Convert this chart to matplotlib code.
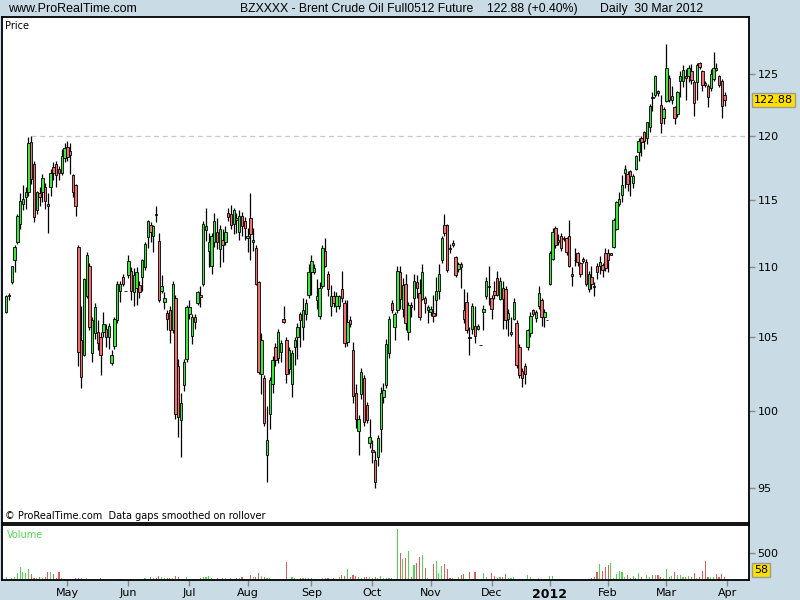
import numpy as np
import pandas as pd
import matplotlib
matplotlib.use("Agg")
import matplotlib.pyplot as plt
import matplotlib.transforms as mtransforms
from matplotlib.ticker import FixedLocator, FixedFormatter, NullLocator

# ── data: daily OHLC + volume, 30 Mar 2011 .. 30 Mar 2012 ─────────────────────
holidays = ["2011-04-22", "2011-12-26", "2012-01-02"]

opens = [
    106.8, 108.0, 108.9, 110.5, 111.8, 113.2, 114.7, 115.2, 115.6, 119.5,
    117.8, 114.2, 115.5, 115.6, 116.0, 114.65, 116.0, 117.5, 117.8, 117.35,
    117.1, 118.2, 119.1, 118.8, 116.9, 116.1, 111.5, 104.8, 103.8, 107.9,
    110.1, 103.9, 105.3, 105.4, 105.0, 105.4, 105.6, 105.0, 103.2, 104.4,
    106.2, 108.3, 109.3, 108.3, 109.4, 109.7, 108.2, 108.5, 108.7, 109.25,
    110.0, 112.2, 113.1, 112.3, 113.95, 111.9, 108.3, 107.5, 106.7, 106.9,
    105.5, 107.8, 103.0, 99.4, 101.7, 103.5, 106.6, 105.1, 106.4, 107.4,
    107.95, 108.8, 112.7, 111.2, 110.05, 111.8, 112.6, 111.3, 112.0, 111.8,
    114.0, 113.9, 113.2, 113.6, 112.6, 113.8, 113.4, 112.1, 113.6, 111.8,
    111.4, 108.9, 102.5, 102.2, 97.1, 99.8, 101.8, 104.3, 103.6, 104.0,
    106.3, 104.8, 102.8, 101.8, 104.3, 105.0, 106.6, 105.7, 106.6, 108.0,
    109.6, 109.65, 107.6, 106.5, 108.6, 111.2, 109.5, 107.2, 107.9, 107.2,
    107.2, 108.4, 107.4, 104.7, 106.2, 104.15, 101.2, 98.7, 101.1, 102.2,
    100.4, 97.9, 97.45, 96.8, 97.0, 98.8, 100.9, 101.7, 103.9, 107.4,
    105.7, 106.9, 109.6, 107.0, 108.8, 105.4, 107.3, 107.8, 108.9, 108.1,
    107.7, 107.8, 106.9, 106.75, 106.7, 107.6, 108.3, 110.5, 113.1, 113.1,
    111.4, 111.75, 110.7, 109.85, 110.2, 106.9, 107.5, 105.05, 105.6, 105.8,
    105.6, 104.45, 106.8, 107.9, 108.65, 107.8, 108.3, 109.2, 107.7, 108.45,
    108.4, 106.3, 105.2, 106.3, 106.0, 104.3, 102.7, 103.0, 104.3, 105.3,
    106.9, 106.35, 107.2, 107.6, 106.4, 106.2, 108.8, 110.6, 112.9, 111.8,
    112.3, 112.15, 112.1, 112.3, 109.5, 110.5, 111.0, 110.3, 110.55, 110.35,
    108.4, 109.25, 108.65, 110.05, 110.05, 110.15, 111.0, 111.0, 110.9, 111.5,
    112.8, 114.7, 115.4, 117.1, 117.0, 117.2, 116.3, 117.4, 118.7, 119.8,
    120.3, 119.8, 120.7, 123.1, 123.3, 123.6, 122.45, 121.4, 122.8, 124.7,
    122.9, 122.3, 121.7, 124.4, 124.4, 124.85, 124.85, 125.2, 124.3, 124.3,
    125.9, 125.2, 124.25, 124.0, 123.8, 124.6, 125.5, 124.8, 124.4, 123.3,
]
highs = [
    108.0, 108.1, 110.1, 111.6, 113.9, 115.5, 116.1, 116.0, 119.9, 120.0,
    118.0, 115.7, 116.0, 117.0, 116.3, 115.5, 117.4, 117.9, 118.0, 117.6,
    118.9, 119.4, 119.6, 119.4, 117.0, 116.2, 111.6, 107.2, 109.2, 111.1,
    110.3, 106.4, 107.4, 106.2, 105.4, 106.8, 105.9, 106.0, 104.1, 106.4,
    109.0, 109.0, 109.5, 108.3, 110.9, 110.0, 109.9, 110.0, 109.0, 110.6,
    111.8, 113.5, 113.3, 113.1, 114.5, 112.5, 109.4, 108.2, 106.9, 107.2,
    109.0, 108.0, 103.5, 101.2, 103.5, 107.3, 107.6, 106.6, 106.6, 108.3,
    108.6, 113.4, 114.4, 112.5, 112.5, 114.0, 113.6, 113.1, 112.8, 113.0,
    114.4, 114.6, 114.4, 114.0, 114.2, 114.1, 113.7, 112.9, 115.5, 112.9,
    111.6, 109.0, 105.3, 102.4, 100.3, 102.3, 103.7, 104.6, 105.6, 104.8,
    107.2, 105.0, 104.3, 104.1, 105.0, 106.0, 106.8, 107.8, 107.7, 110.2,
    110.9, 110.2, 109.1, 108.9, 111.6, 112.1, 109.7, 108.7, 108.3, 108.2,
    108.0, 109.7, 107.6, 107.6, 106.5, 104.7, 101.8, 99.7, 102.9, 102.4,
    100.6, 99.5, 98.1, 97.4, 98.4, 101.6, 101.9, 104.9, 106.5, 107.6,
    106.8, 110.1, 110.1, 109.2, 109.5, 107.5, 107.5, 109.5, 109.4, 109.1,
    110.2, 107.9, 107.3, 107.2, 108.0, 109.3, 110.2, 112.3, 113.95, 113.2,
    111.7, 112.0, 110.8, 110.4, 110.4, 108.4, 108.2, 105.7, 107.4, 107.2,
    105.9, 104.45, 107.3, 109.3, 110.1, 108.0, 109.0, 109.7, 109.3, 109.0,
    108.6, 107.0, 106.45, 107.8, 106.2, 104.5, 102.9, 103.2, 105.6, 106.8,
    107.0, 106.9, 108.6, 107.8, 107.0, 106.2, 111.2, 112.9, 113.0, 112.4,
    112.5, 112.3, 112.2, 113.5, 110.0, 111.4, 111.1, 110.4, 110.7, 110.6,
    109.7, 110.1, 108.9, 110.3, 110.8, 110.3, 111.4, 111.3, 111.0, 113.6,
    114.9, 115.6, 116.9, 117.7, 117.2, 117.3, 117.0, 118.5, 119.8, 120.0,
    120.4, 121.1, 122.5, 123.5, 124.9, 123.7, 123.3, 122.3, 127.5, 124.9,
    124.0, 122.4, 123.6, 125.2, 125.7, 125.4, 125.7, 125.8, 124.5, 125.9,
    126.0, 125.3, 124.4, 124.2, 125.4, 126.8, 125.9, 124.9, 124.6, 123.5,
]
lows = [
    106.7, 107.6, 108.8, 109.6, 111.7, 112.8, 114.2, 114.3, 115.3, 116.2,
    113.3, 113.9, 114.5, 114.8, 114.3, 112.5, 115.3, 116.5, 116.0, 116.5,
    116.9, 117.9, 118.0, 117.0, 115.2, 113.8, 103.0, 101.5, 103.7, 107.8,
    105.5, 103.3, 104.9, 104.1, 102.4, 105.0, 104.3, 104.2, 103.1, 104.2,
    106.0, 107.5, 108.6, 108.3, 109.2, 107.6, 107.2, 107.3, 107.8, 108.3,
    109.8, 111.4, 111.8, 111.1, 113.3, 107.5, 108.1, 107.0, 105.5, 104.6,
    105.3, 99.5, 98.3, 97.0, 101.3, 103.3, 106.3, 104.5, 105.6, 107.3,
    107.1, 108.6, 111.9, 110.0, 109.5, 111.5, 111.3, 110.0, 110.4, 111.6,
    113.4, 112.8, 112.4, 112.5, 112.0, 112.3, 112.0, 111.1, 110.5, 111.2,
    108.7, 102.5, 101.1, 99.0, 95.4, 98.8, 101.2, 103.0, 103.2, 103.3,
    106.0, 101.9, 102.5, 100.9, 103.1, 103.5, 104.3, 104.8, 106.2, 107.8,
    108.0, 109.5, 107.0, 106.3, 108.5, 110.0, 107.9, 106.5, 107.1, 106.8,
    107.0, 107.5, 104.3, 104.4, 105.7, 100.5, 98.9, 97.1, 100.8, 99.0,
    99.2, 97.6, 96.6, 95.0, 96.4, 97.3, 100.5, 101.5, 103.6, 106.7,
    104.8, 106.7, 107.0, 106.4, 105.5, 104.8, 106.4, 106.9, 107.8, 106.2,
    107.6, 106.7, 106.0, 106.5, 106.1, 106.5, 107.7, 110.3, 112.3, 109.6,
    111.0, 111.5, 109.3, 109.6, 108.5, 106.0, 105.3, 103.75, 105.2, 104.6,
    105.5, 104.45, 105.5, 107.7, 107.3, 106.3, 107.7, 107.9, 107.6, 105.6,
    105.6, 105.1, 105.1, 106.2, 102.9, 102.2, 101.6, 101.8, 104.1, 105.0,
    106.5, 106.1, 107.0, 105.8, 105.7, 106.2, 108.7, 110.5, 111.4, 111.6,
    111.2, 111.9, 110.9, 110.0, 108.6, 110.1, 110.1, 109.3, 110.3, 108.6,
    108.2, 108.4, 107.9, 109.1, 109.5, 109.3, 109.7, 109.6, 110.9, 111.4,
    112.7, 114.5, 114.8, 115.9, 115.7, 115.3, 115.9, 117.3, 118.0, 118.4,
    118.9, 119.3, 120.3, 122.0, 123.1, 123.2, 120.2, 120.9, 122.7, 122.7,
    122.5, 120.9, 121.5, 123.1, 123.9, 122.9, 124.3, 124.2, 121.6, 122.9,
    125.4, 123.6, 123.9, 122.3, 123.6, 124.4, 125.2, 123.9, 121.4, 122.4,
]
closes = [
    107.9, 107.9, 110.05, 111.5, 113.8, 114.95, 115.1, 115.6, 119.4, 116.6,
    113.7, 115.6, 115.2, 116.7, 114.9, 114.55, 117.1, 117.1, 116.9, 117.1,
    118.4, 119.0, 118.3, 118.5, 115.6, 114.5, 104.0, 102.3, 109.1, 110.9,
    105.7, 106.2, 107.1, 104.6, 103.8, 105.9, 105.0, 105.8, 103.8, 106.3,
    108.8, 108.8, 108.8, 108.3, 110.45, 108.3, 109.4, 109.6, 108.2, 110.5,
    111.7, 113.4, 112.6, 113.0, 113.85, 107.6, 108.6, 107.8, 106.3, 105.5,
    108.8, 99.8, 99.6, 100.5, 103.3, 107.1, 107.1, 106.4, 106.1, 108.2,
    107.85, 113.2, 113.0, 111.8, 112.3, 113.4, 111.8, 112.8, 111.6, 112.6,
    113.7, 113.1, 114.2, 113.5, 113.8, 113.0, 112.9, 112.3, 112.4, 112.0,
    108.8, 102.6, 104.8, 99.2, 98.1, 102.1, 103.4, 103.4, 105.4, 104.6,
    106.1, 102.5, 104.1, 103.9, 104.8, 105.7, 106.2, 106.9, 107.4, 109.6,
    110.45, 109.9, 107.9, 108.5, 111.4, 110.1, 108.4, 107.9, 107.4, 107.9,
    107.9, 107.8, 104.6, 106.1, 105.9, 101.0, 99.5, 99.5, 102.6, 99.3,
    99.4, 98.3, 97.3, 95.4, 98.2, 101.2, 101.4, 104.5, 106.3, 106.9,
    106.6, 109.7, 107.7, 108.7, 106.0, 107.3, 107.1, 109.0, 108.45, 106.4,
    109.6, 107.4, 107.1, 107.0, 106.5, 108.3, 109.5, 112.1, 112.5, 109.8,
    111.3, 111.65, 109.4, 110.2, 110.0, 106.3, 105.5, 104.95, 107.2, 105.1,
    105.8, 104.45, 107.0, 109.0, 108.55, 107.0, 108.0, 108.0, 109.0, 107.7,
    106.2, 106.7, 105.4, 107.5, 103.1, 102.4, 102.2, 102.5, 105.5, 106.5,
    106.6, 106.75, 108.1, 106.4, 106.8, 106.2, 111.0, 112.6, 111.6, 112.0,
    111.4, 112.05, 111.1, 110.1, 109.35, 110.5, 110.4, 109.5, 110.45, 108.8,
    109.5, 108.8, 108.55, 109.65, 110.35, 109.8, 109.9, 110.5, 111.0, 113.5,
    114.8, 115.1, 116.1, 117.4, 116.2, 116.85, 116.8, 118.4, 119.6, 119.5,
    119.6, 121.05, 122.4, 123.0, 124.85, 123.4, 121.0, 122.1, 125.5, 122.9,
    123.2, 121.4, 123.55, 124.85, 125.3, 124.65, 125.5, 124.5, 122.6, 125.7,
    125.6, 124.05, 124.1, 123.1, 125.0, 125.5, 125.35, 124.1, 122.4, 122.88,
]
volumes = [
    60, 10, 43, 60, 120, 245, 150, 120, 200, 110,
    43, 37, 50, 37, 50, 140, 150, 110, 37, 146,
    43, 25, 18, 10, 20, 37, 43, 37, 25, 30,
    18, 10, 18, 25, 30, 10, 5, 5, 5, 18,
    18, 18, 15, 5, 5, 5, 18, 18, 18, 18,
    30, 25, 50, 30, 30, 73, 50, 43, 30, 43,
    30, 73, 50, 25, 25, 55, 25, 25, 18, 25,
    30, 50, 60, 73, 30, 10, 30, 25, 30, 37,
    25, 30, 25, 30, 30, 50, 25, 18, 92, 50,
    50, 134, 73, 50, 30, 30, 25, 18, 18, 18,
    18, 330, 18, 50, 30, 25, 37, 30, 37, 37,
    43, 25, 25, 25, 30, 43, 43, 18, 30, 18,
    50, 92, 73, 200, 60, 85, 73, 60, 37, 60,
    50, 60, 37, 60, 30, 73, 30, 30, 30, 30,
    20, 930, 490, 390, 410, 537, 50, 275, 317, 427,
    458, 213, 37, 15, 293, 348, 134, 262, 293, 195,
    30, 30, 25, 50, 85, 116, 25, 146, 25, 146,
    10, 5, 134, 50, 15, 128, 70, 37, 55, 60,
    110, 30, 43, 50, 15, 15, 10, 10, 92, 50,
    15, 10, 30, 25, 10, 5, 73, 80, 20, 10,
    15, 15, 10, 10, 10, 5, 5, 10, 15, 15,
    25, 30, 50, 146, 293, 159, 244, 275, 317, 43,
    110, 165, 152, 50, 92, 43, 67, 43, 122, 50,
    25, 85, 50, 92, 85, 98, 50, 37, 200, 55,
    73, 152, 98, 98, 50, 50, 73, 50, 134, 37,
    50, 171, 348, 50, 50, 50, 110, 50, 110, 58,
]

price_ticks = [95, 100, 105, 110, 115, 120, 125]
volume_ticks = [500]
last_price = "122.88"
last_volume = "58"
title_left = "www.ProRealTime.com"
title_parts = ["BZXXXX - Brent Crude Oil Full0512 Future", "122.88 (+0.40%)",
               "Daily  30 Mar 2012"]

# ── calendar (weekdays without exchange holidays) ─────────────────────────────
days = pd.bdate_range("2011-03-30", "2012-04-02")
days = days[~days.isin(pd.to_datetime(holidays))]
n = len(closes)

o = np.array(opens)
h = np.array(highs)
l = np.array(lows)
c = np.array(closes)
v = np.array(volumes)
x = np.arange(n)

BG = "#c9dce6"
GREEN = "#3fe63f"
RED = "#f07070"
body_col = np.where(c >= o, GREEN, RED)
vol_col = np.where(c >= o, "#4fd64f", "#e25c5c")

fig = plt.figure(figsize=(8, 6), dpi=100, facecolor=BG)
ax = fig.add_axes([2 / 800, 1 - 523 / 600, 747 / 800, 506 / 600])
axv = fig.add_axes([2 / 800, 1 - 580 / 600, 747 / 800, 55 / 600])

x_left, x_right = -1.55, 267.8

# ── price panel ───────────────────────────────────────────────────────────────
ax.set_facecolor("white")
ax.set_yscale("log")
ax.hlines(120, 9, x_right, colors="#c8c8c8", linestyles=(0, (4, 3)), lw=0.9, zorder=1)
ax.vlines(x, l, h, color="black", lw=0.9, zorder=2)
ax.bar(x, c - o, bottom=o, width=0.86, color=body_col, edgecolor="black",
       linewidth=0.6, zorder=3)
ax.set_xlim(x_left, x_right)
ax.set_ylim(92.85, 129.8)
ax.yaxis.tick_right()
ax.yaxis.set_major_locator(FixedLocator(price_ticks))
ax.yaxis.set_major_formatter(FixedFormatter([str(t) for t in price_ticks]))
ax.yaxis.set_minor_locator(NullLocator())
ax.tick_params(axis="y", direction="out", length=4, width=1, color="#888888",
               labelsize=8, pad=2)
ax.tick_params(axis="x", bottom=False, labelbottom=False)
for s in ax.spines.values():
    s.set_linewidth(1.3)

trans = mtransforms.blended_transform_factory(ax.transAxes, ax.transData)
ax.text(1.007, c[-1], last_price, transform=trans, va="center", ha="left",
        fontsize=8, bbox=dict(boxstyle="square,pad=0.18", fc="#ffe000", ec="#9a9a9a", lw=1))

ax.text(0.004, 0.992, "Price", transform=ax.transAxes, va="top", ha="left", fontsize=7)
ax.text(0.004, 0.004, "\u00a9 ProRealTime.com  Data gaps smoothed on rollover",
        transform=ax.transAxes, va="bottom", ha="left", fontsize=7)

# ── volume panel ──────────────────────────────────────────────────────────────
axv.set_facecolor("white")
axv.bar(x, v, width=0.4, color=vol_col, linewidth=0)
axv.set_xlim(x_left, x_right)
axv.set_ylim(0, 1005)
axv.yaxis.tick_right()
axv.yaxis.set_major_locator(FixedLocator(volume_ticks))
axv.yaxis.set_major_formatter(FixedFormatter([str(t) for t in volume_ticks]))
axv.tick_params(axis="y", direction="out", length=4, width=1, color="#888888",
                labelsize=8, pad=2)
for s in axv.spines.values():
    s.set_linewidth(1.3)
axv.text(0.006, 0.9, "Volume", transform=axv.transAxes, va="top", ha="left",
         fontsize=7, color="#55d855")
axv.text(1.007, 0.19, last_volume, transform=axv.transAxes, va="center", ha="left",
         fontsize=8, bbox=dict(boxstyle="square,pad=0.18", fc="#ffe000", ec="#9a9a9a", lw=1))

# month ticks at the first trading day of each month (from May 2011 on)
month_pos, month_lab = [], []
for i in range(5, len(days)):
    if days[i].month != days[i - 1].month:
        month_pos.append(i)
        month_lab.append(str(days[i].year) if days[i].month == 1 else days[i].strftime("%b"))
axv.set_xticks(month_pos)
axv.set_xticklabels(month_lab)
axv.tick_params(axis="x", direction="out", length=4, width=1, color="#888888",
                labelsize=8, pad=1.5)
for lab in axv.get_xticklabels():
    if lab.get_text().isdigit():
        lab.set_fontweight("bold")
        lab.set_fontsize(9)

# ── header ────────────────────────────────────────────────────────────────────
head = ["Liberation Sans", "DejaVu Sans"]
hy = 1 - 9 / 600
fig.text(8 / 800, hy, title_left, family=head, fontsize=9, va="center", ha="left")
fig.text(240 / 800, hy, title_parts[0], family=head, fontsize=8.8, va="center", ha="left")
fig.text(487 / 800, hy, title_parts[1], family=head, fontsize=8.8, va="center", ha="left")
fig.text(600 / 800, hy, title_parts[2], family=head, fontsize=8.8, va="center", ha="left")

fig.savefig("out.png", dpi=100, facecolor=BG)
